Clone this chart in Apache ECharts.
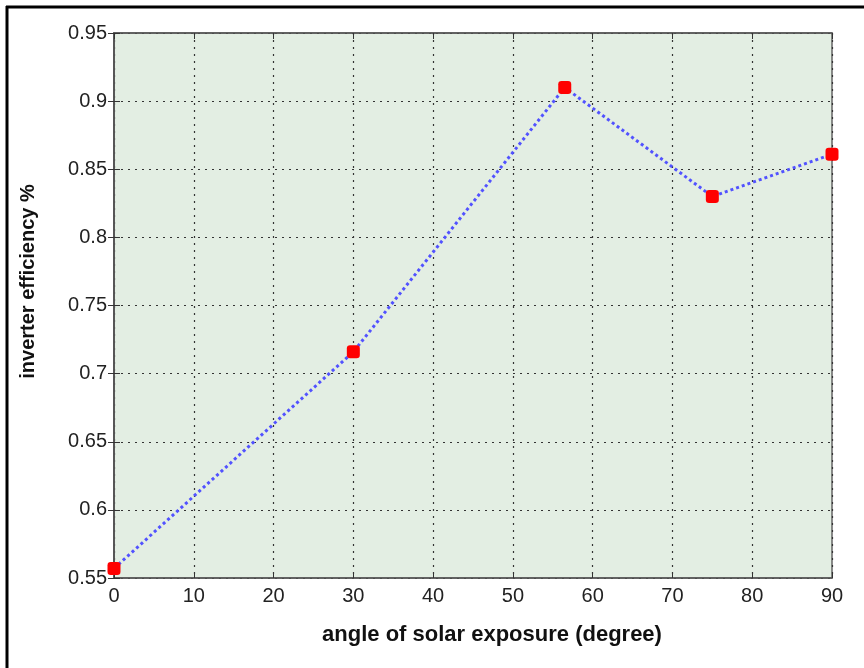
<!DOCTYPE html>
<html><head><meta charset="utf-8">
<script src="https://cdn.jsdelivr.net/npm/echarts@6/dist/echarts.min.js"></script>
<style>html,body{margin:0;padding:0;background:#fff}#c{width:864px;height:668px}</style>
</head><body><div id="c"></div>
<script>
const angles = [0, 30, 56.5, 75, 90];
const efficiency = [0.557, 0.716, 0.910, 0.830, 0.861];
const xTitle = 'angle of solar exposure (degree)';
const yTitle = 'inverter efficiency %';

const chart = echarts.init(document.getElementById('c'));
const font = 'Liberation Sans, Arial, sans-serif';
const tickStyle = {show:true, inside:true, length:6, lineStyle:{color:'#333', width:1}};
const gridDots = {show:true, lineStyle:{color:'#333', type:[2,5], width:1.2}};
chart.setOption({
  animation:false,
  backgroundColor:'#fff',
  grid:{left:114, top:33, width:718, height:545, show:true, backgroundColor:'#e3eee3', borderColor:'#666', borderWidth:1.5},
  graphic:[
    {type:'line', shape:{x1:6, y1:7, x2:864, y2:7}, style:{stroke:'#000', lineWidth:3}},
    {type:'line', shape:{x1:7, y1:6, x2:7, y2:668}, style:{stroke:'#000', lineWidth:3}}
  ],
  xAxis:[{
    type:'value', min:0, max:90, interval:10,
    name:xTitle, nameLocation:'middle', nameGap:46,
    nameTextStyle:{fontFamily:font, fontSize:22, fontWeight:'bold', color:'#111', padding:[0,0,0,38]},
    axisLine:{show:true, lineStyle:{color:'#555', width:1.5}},
    axisTick:tickStyle,
    axisLabel:{fontFamily:font, fontSize:20, color:'#222', margin:8},
    splitLine:gridDots
  },{
    type:'value', position:'top', min:0, max:90, interval:10,
    axisLine:{show:true, lineStyle:{color:'#555', width:1.5}},
    axisTick:tickStyle, axisLabel:{show:false}, splitLine:{show:false}
  }],
  yAxis:[{
    type:'value', min:0.55, max:0.95, interval:0.05,
    name:yTitle, nameLocation:'middle', nameGap:76, nameRotate:90,
    nameTextStyle:{fontFamily:font, fontSize:20, fontWeight:'bold', color:'#111', padding:[0,0,0,48]},
    axisLine:{show:true, lineStyle:{color:'#555', width:1.5}},
    axisTick:tickStyle,
    axisLabel:{fontFamily:font, fontSize:20, color:'#222', margin:7, formatter:v=>String(+v.toFixed(2))},
    splitLine:gridDots
  },{
    type:'value', position:'right', min:0.55, max:0.95, interval:0.05,
    axisLine:{show:true, lineStyle:{color:'#555', width:1.5}},
    axisTick:tickStyle, axisLabel:{show:false}, splitLine:{show:false}
  }],
  series:[{
    type:'line',
    data:angles.map((a,i)=>[a, efficiency[i]]),
    symbol:'roundRect', symbolSize:13,
    itemStyle:{color:'#ff0000'},
    lineStyle:{color:'#5252ff', width:3, type:[3,3]},
    z:5
  }]
});
</script></body></html>
